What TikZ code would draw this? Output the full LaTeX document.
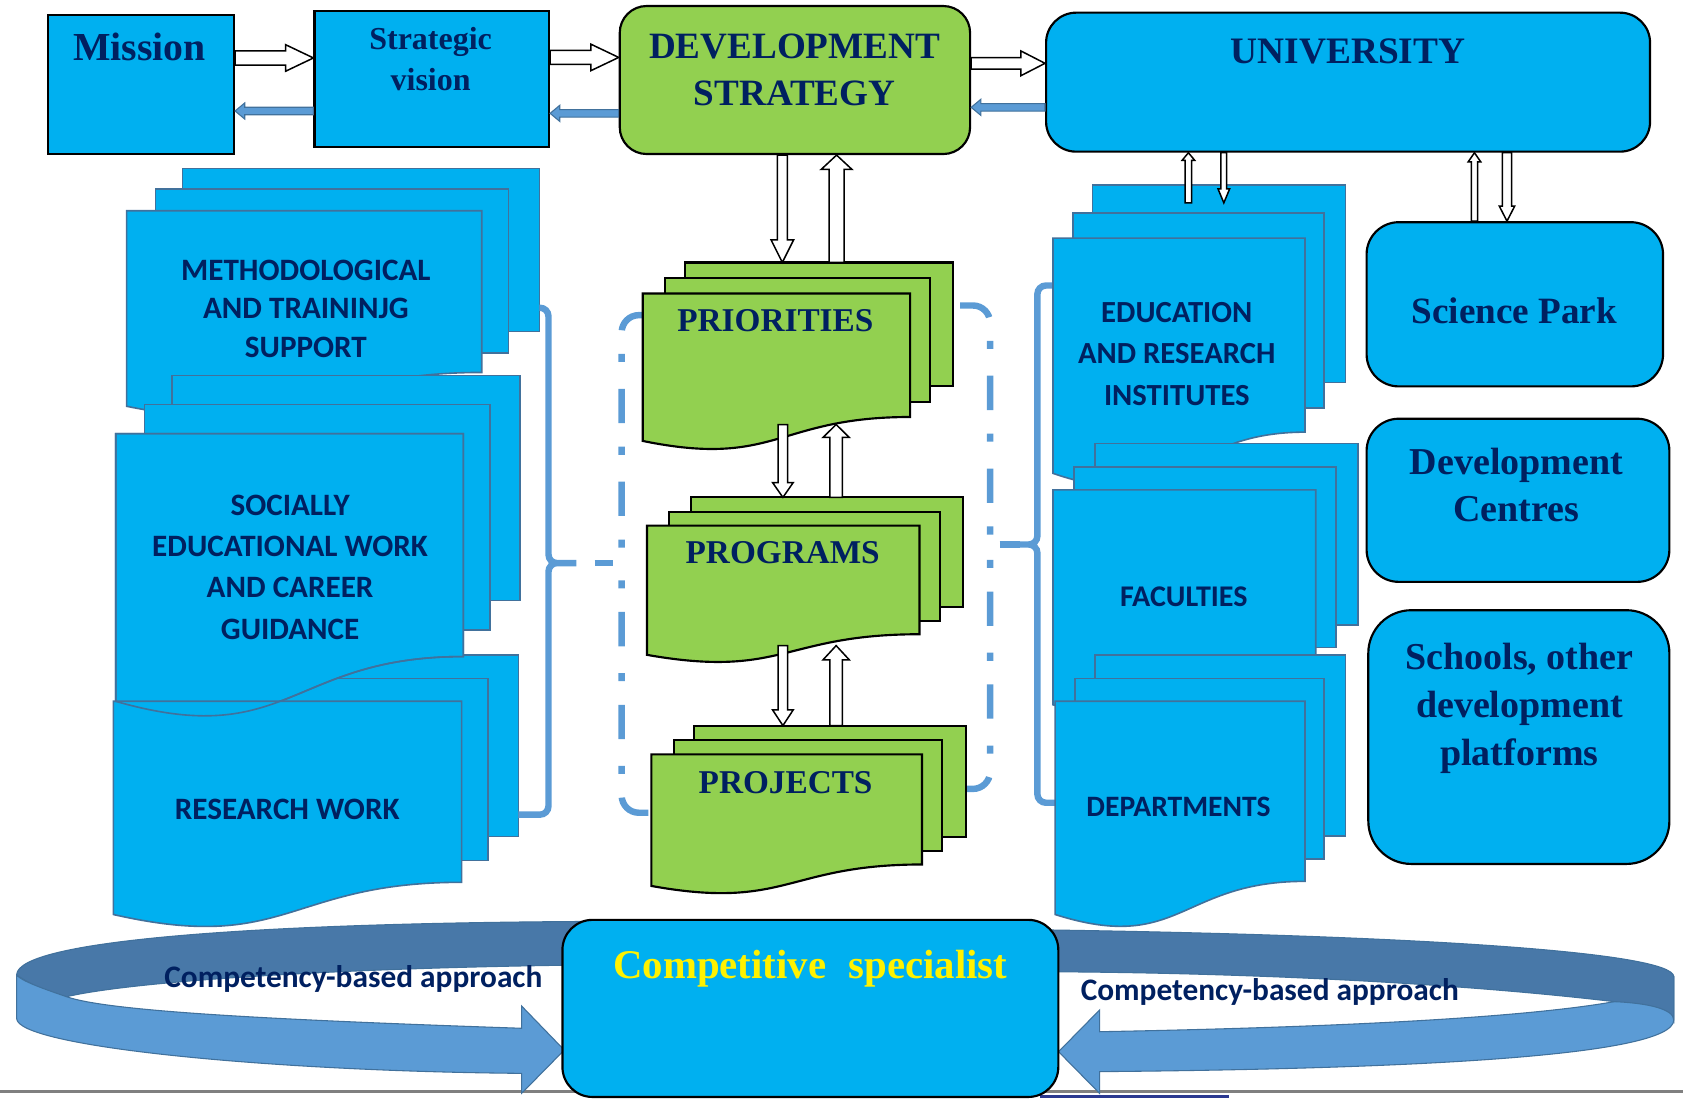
\documentclass[tikz,border=0pt]{standalone}
\usepackage{fontspec}
\setmainfont{Liberation Serif}
\newfontfamily\calibri{Carlito}
\usepackage{tkz-euclide}
\usetikzlibrary{calc}

\definecolor{boxblue}{HTML}{00B0F0}
\definecolor{leafgreen}{HTML}{92D050}
\definecolor{navy}{HTML}{002060}
\definecolor{braceblue}{HTML}{5B9BD5}
\definecolor{edgeblue}{HTML}{41719C}
\definecolor{ribbondark}{HTML}{4878A8}
\definecolor{inkbar}{HTML}{2B3990}

\tikzset{
        box/.style={draw=black, line width=1pt, fill=boxblue},
        roundbox/.style={box, rounded corners=#1},
        bluesheet/.style={draw=edgeblue, line width=.75pt, fill=boxblue},
        greensheet/.style={draw=black, line width=1pt, fill=leafgreen},
        hollow/.style={draw=black, line width=.7pt, fill=white},
        backarrow/.style={draw=edgeblue, line width=.5pt, fill=braceblue},
        bracket/.style={draw=braceblue, line width=3pt},
        dashdot/.style={bracket, dash pattern=on 16pt off 11pt on 3.75pt off 12.5pt, rounded corners=8pt},
        ribbon/.style={draw=edgeblue, line width=.5pt, fill=#1},
        serif/.style 2 args={text=navy, inner sep=0pt, align=center, font=\fontsize{#1}{#2}\selectfont\bfseries},
        sans/.style 2 args={text=navy, inner sep=0pt, align=center, font=\calibri\fontsize{#1}{#2}\selectfont\bfseries}
}

\newcommand\docpage[6][]{%
        \draw[#1] (#2,#3) -- (#4,#3) -- (#4,#5) .. controls ({(#2+#4)/2},#5) and ({(#2+#4)/2},{#6+.186*(#6-#3)}) .. (#2,#6) -- cycle;}

\newcommand\blockarrow[6][]{%
        \coordinate (ba) at (#2);
        \coordinate (bb) at (#3);
        \coordinate (bh) at ($(bb)!#6!(ba)$);
        \draw[#1] ($(ba)!#4!90:(bb)$) -- ($(bh)!#4!90:(bb)$) -- ($(bh)!#5!90:(bb)$)
                -- (bb) -- ($(bh)!#5!-90:(bb)$) -- ($(bh)!#4!-90:(bb)$) -- ($(ba)!#4!-90:(bb)$) -- cycle;}

\begin{document}
\begin{tikzpicture}[x=0.5pt, y=-0.5pt]
        \useasboundingbox (0,0) rectangle (1568,1023);

        \node[box, minimum width=86.5pt, minimum height=64.75pt] (mission) at (131.5,78.75) {};
        \node[box, minimum width=109.25pt, minimum height=63.25pt] (vision) at (402.25,73.45) {};
        \node[roundbox=12.5pt, fill=leafgreen, minimum width=163.2pt, minimum height=68.95pt] (strategy) at (740.6,74.55) {};
        \node[roundbox=14pt, minimum width=281.35pt, minimum height=64.75pt] (university) at (1255.95,76.55) {};
        \node[serif={18.5pt}{22pt}, anchor=base] (mission-txt) at (130,56.8) {Mission};
        \node[serif={14.9pt}{19.45pt}, anchor=north] (vision-txt) at (401.2,24.8) {Strategic\\vision};
        \node[serif={17.3pt}{22.2pt}, anchor=north] (strategy-txt) at (740.3,31) {DEVELOPMENT\\STRATEGY};
        \node[serif={17.4pt}{22pt}, anchor=base] (university-txt) at (1256,59.6) {UNIVERSITY};

        \draw[bluesheet] (170.2,156.9) rectangle (502.5,309);
        \draw[bluesheet] (145,175.9) rectangle (473.6,328.9);
        \docpage[bluesheet]{118}{196.3}{448.8}{347}{378.5}
        \node[sans={14.5pt}{17.75pt}, anchor=north] (method) at (285,242.2) {METHODOLOGICAL\\AND TRAININJG\\SUPPORT};
        \draw[bluesheet] (160,610.3) rectangle (483,779.5);
        \draw[bluesheet] (135,632) rectangle (454.4,801.7);
        \draw[bluesheet] (160,349.8) rectangle (484.5,559.3);
        \draw[bluesheet] (134.5,377) rectangle (456.5,587);
        \docpage[bluesheet]{107.8}{404}{431.7}{611.7}{653.4}
        \node[sans={14.5pt}{19.25pt}, anchor=north] (social) at (270.3,460.5) {SOCIALLY\\EDUCATIONAL WORK\\AND CAREER\\GUIDANCE};
        \docpage[bluesheet]{105.6}{653.3}{430.1}{822}{852}
        \docpage[draw=edgeblue, line width=.75pt]{107.8}{404}{431.7}{611.7}{653.4}
        \node[sans={14.5pt}{17pt}, anchor=base] (research) at (267.6,763.3) {RESEARCH WORK};

        \coordinate (lbrace) at (537,524.6);
        \coordinate (lgroup) at (579.2,524.6);
        \coordinate (rgroup) at (922.4,507.3);
        \coordinate (rbrace) at (950.4,507.3);
        \draw[bracket, rounded corners=4pt] (502.5,286.7) -| (511,524.6) -- (lbrace) (lbrace) -- (511,524.6) |- (483,759);
        \draw[bracket, dash pattern=on 0pt off 8.5pt on 8.5pt off 20pt] (lbrace) -- (lgroup);
        \draw[dashdot] (604,293.6) -| (lgroup);
        \draw[dashdot] (604,757.2) -| (lgroup);
        \draw[dashdot] (894.4,284.6) -| (rgroup);
        \draw[dashdot] (894.4,735) -| (rgroup);
        \draw[bracket, dash pattern=on 0pt off 4.5pt on 10pt off 20pt] (rgroup) -- (rbrace);
        \draw[bracket, rounded corners=4pt] (981.4,266) -| (966.5,507.3) -- (rbrace) (rbrace) -- (966.5,507.3) |- (983,747.9);

        \draw[greensheet] (638.2,244.5) rectangle (887.6,359.5);
        \draw[greensheet] (619.6,259.2) rectangle (866.5,374.7);
        \docpage[greensheet]{598.8}{273.5}{847.9}{388.5}{410.8}
        \node[serif={15.5pt}{19pt}, anchor=base] (prio) at (722.4,309.2) {PRIORITIES};
        \draw[greensheet] (643.5,463.4) rectangle (897.5,565.5);
        \draw[greensheet] (623.6,476.8) rectangle (875.8,578.9);
        \docpage[greensheet]{602.8}{489.7}{856.6}{590.9}{610.1}
        \node[serif={15.5pt}{19pt}, anchor=base] (prog) at (729.2,525.4) {PROGRAMS};
        \draw[greensheet] (646.9,676) rectangle (899.7,779.5);
        \draw[greensheet] (627.7,689.5) rectangle (878,792.9);
        \docpage[greensheet]{606.9}{702.8}{859}{805.4}{825.4}
        \node[serif={15.5pt}{19pt}, anchor=base] (proj) at (731.9,739.3) {PROJECTS};
        \coordinate (prio-n) at (763,244.5);
        \coordinate (prio-s) at (763,395.5);
        \coordinate (prog-n) at (770,463.4);
        \coordinate (prog-s) at (770,601.5);
        \coordinate (proj-n) at (773,676);

        \draw[bluesheet] (1017.9,172.2) rectangle (1253.4,356.2);
        \draw[bluesheet] (999.6,198.2) rectangle (1233.6,379.9);
        \docpage[bluesheet]{981}{221.9}{1215.8}{402.6}{441}
        \node[sans={14.3pt}{19.35pt}, anchor=north] (inst) at (1096.4,280.9) {EDUCATION\\AND RESEARCH\\INSTITUTES};
        \draw[bluesheet] (1019.9,413.2) rectangle (1265.4,582.4);
        \draw[bluesheet] (1000.4,435) rectangle (1244.9,603.3);
        \docpage[bluesheet]{981}{456.4}{1225.8}{628}{656.6}
        \node[sans={14pt}{17pt}, anchor=base] (faculty) at (1102.9,565.3) {FACULTIES};
        \draw[bluesheet] (1019.9,610.3) rectangle (1253.4,778.6);
        \draw[bluesheet] (1001.6,632) rectangle (1233.6,800.3);
        \docpage[bluesheet]{983}{653.3}{1215.8}{821.1}{852}
        \node[sans={13.8pt}{17pt}, anchor=base] (dept) at (1098,761) {DEPARTMENTS};
        \coordinate (inst-n) at (1125,189);

        \node[roundbox=15pt, minimum width=138.1pt, minimum height=76.5pt] (park) at (1411.3,283.5) {};
        \node[roundbox=15pt, minimum width=141.05pt, minimum height=76pt] (centres) at (1414.25,466.1) {};
        \node[roundbox=20pt, minimum width=140.25pt, minimum height=118.2pt] (schools) at (1415.05,686.7) {};
        \node[serif={17.3pt}{22pt}, anchor=base] (park-txt) at (1410.8,301) {Science Park};
        \node[serif={17.7pt}{22pt}, anchor=north] (centres-txt) at (1412.8,416.8) {Development\\Centres};
        \node[serif={17.7pt}{22.25pt}, anchor=north] (schools-txt) at (1415.6,598.8) {Schools, other\\development\\platforms};

        \blockarrow[hollow]{mission.east |- 0,54}{vision.west |- 0,54}{3.3pt}{6.2pt}{13pt}
        \blockarrow[hollow]{vision.east |- 0,53.5}{strategy.west |- 0,53.5}{3.25pt}{6.2pt}{13pt}
        \blockarrow[hollow]{strategy.east |- 0,59}{university.west |- 0,59}{2.7pt}{5.8pt}{11.3pt}
        \blockarrow[backarrow]{vision.west |- 0,103.4}{mission.east |- 0,103.4}{1.75pt}{3.75pt}{4.5pt}
        \blockarrow[backarrow]{strategy.west |- 0,105.6}{vision.east |- 0,105.6}{1.75pt}{3.75pt}{4.5pt}
        \blockarrow[backarrow]{university.west |- 0,100}{strategy.east |- 0,100}{1.75pt}{3.75pt}{4.5pt}
        \blockarrow[hollow]{strategy.south -| 728.9,0}{728.9,0 |- prio-n}{2.35pt}{5.25pt}{10.5pt}
        \blockarrow[hollow]{779.4,0 |- prio-n}{strategy.south -| 779.4,0}{3.5pt}{7.2pt}{6.7pt}
        \blockarrow[hollow]{729.4,0 |- prio-s}{729.4,0 |- prog-n}{2.25pt}{4.8pt}{6.9pt}
        \blockarrow[hollow]{779,0 |- prog-n}{779,0 |- prio-s}{2.9pt}{6.1pt}{6pt}
        \blockarrow[hollow]{729.4,0 |- prog-s}{729.4,0 |- proj-n}{2.25pt}{4.8pt}{7.3pt}
        \blockarrow[hollow]{779,0 |- proj-n}{779,0 |- prog-s}{2.9pt}{6.1pt}{6.6pt}
        \blockarrow[hollow]{1107.2,0 |- inst-n}{university.south -| 1107.2,0}{1.55pt}{2.9pt}{3.5pt}
        \blockarrow[hollow]{university.south -| 1140.2,0}{1140.2,0 |- inst-n}{1.35pt}{2.7pt}{6.5pt}
        \blockarrow[hollow]{park.north -| 1373.7,0}{university.south -| 1373.7,0}{1.45pt}{2.9pt}{4.2pt}
        \blockarrow[hollow]{university.south -| 1404,0}{park.north -| 1404,0}{2.1pt}{3.6pt}{7pt}

        \draw[line width=1.25pt, gray] (0,1017) -- (1568,1017);
        \fill[inkbar] (969,1020) rectangle (1145,1023);
        \tkzDefPoints{545/858.5/L1,15.5/908.4/L2,62/928.6/L3,545/899/L4,15.5/948.8/L5,486/1000/L6,486/1018.6/L7,525.7/978.3/L8,486/937.3/L9,486/958/L10}
        \tkzDefPoints{970/866.3/R1,1559.4/910/R2,1559.4/950.3/R3,1504/933.2/R4,970/905.3/R5,1024.4/998.4/R6,1024.4/1018.6/R7,986.2/979.8/R8,1024.4/941/R9,1024.4/961.2/R10}
        \draw[ribbon=ribbondark] (L1) .. controls (250,860) and (15.5,875) .. (L2) .. controls (30,918) and (45,925) .. (L3) .. controls (120,915) and (300,902) .. (L4) -- cycle;
        \draw[ribbon=braceblue] (L2) -- (L5) .. controls (15.5,975) and (250,998) .. (L6) -- (L7) -- (L8) -- (L9) -- (L10) .. controls (250,950) and (100,942) .. (L3) .. controls (40,921) and (20,914) .. (L2) -- cycle;
        \draw[ribbon=braceblue] (R2) -- (R3) .. controls (1559.4,985) and (1300,996) .. (R6) -- (R7) -- (R8) -- (R9) -- (R10) .. controls (1250,957) and (1420,948) .. (R4) -- cycle;
        \draw[ribbon=ribbondark] (R1) .. controls (1300,871) and (1559.4,886) .. (R2) -- (R3) .. controls (1559.4,940) and (1535,934.5) .. (R4) .. controls (1350,915) and (1150,906) .. (R5) -- cycle;
        \node[roundbox=14pt, minimum width=231pt, minimum height=82.5pt] (specialist) at (755,939.5) {};
        \node[font=\fontsize{19pt}{23pt}\selectfont\bfseries, text=yellow, inner sep=0pt, anchor=base] (specialist-txt) at (755,911.5) {Competitive\hspace{.3em} specialist};
        \node[sans={14.6pt}{17pt}, anchor=base] (approach-l) at (329.2,919.9) {Competency-based approach};
        \node[sans={14.6pt}{17pt}, anchor=base] (approach-r) at (1183,931.7) {Competency-based approach};
\end{tikzpicture}
\end{document}
